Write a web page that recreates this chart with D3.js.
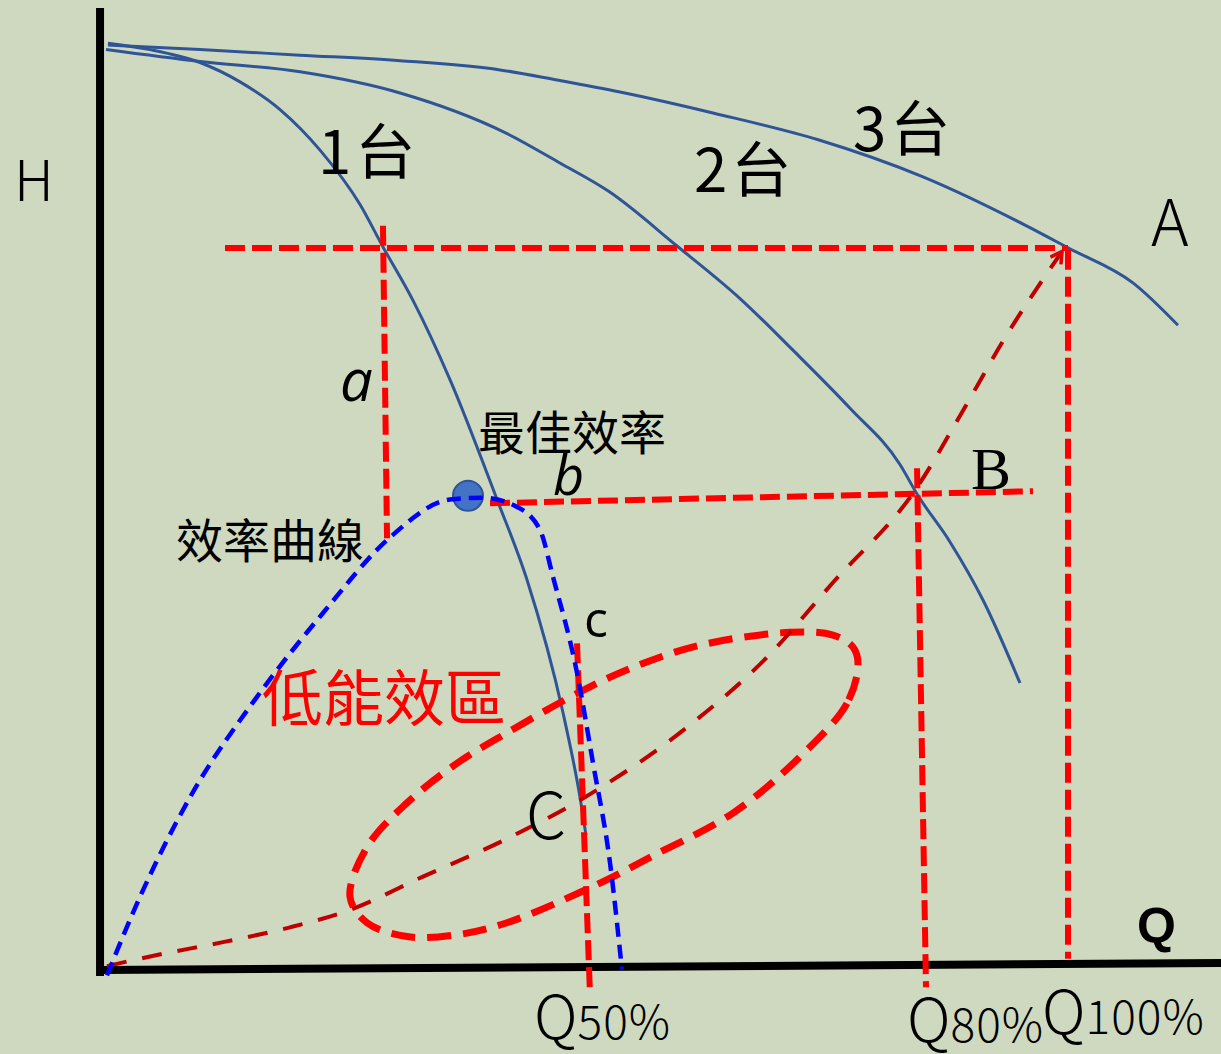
<!DOCTYPE html>
<html>
<head>
<meta charset="utf-8">
<script src="https://cdn.jsdelivr.net/npm/d3@7"></script>
<style>
  html, body { margin: 0; padding: 0; background: #CFD9BF; }
  svg { display: block; }
</style>
</head>
<body>
<svg id="chart" width="1221" height="1054"></svg>
<script>
// ---------- DATA (Q in % of rated flow, H in % of shut-off head) ----------
const pump1 = [[0.41,100.2],[4.77,99.5],[9.96,98.1],[14.11,96.0],[18.26,93.0],[22.41,88.6],[26.56,82.7],[28.94,78.1],[32.05,72.3],[35.89,63.7],[40.77,50.7],[43.88,42.0],[47.61,27.6],[49.38,18.4],[50.0,14.3]];
const pump2 = [[0.21,99.5],[9.96,98.2],[20.33,97.1],[30.71,94.8],[41.60,90.5],[47.30,87.2],[52.39,84.1],[59.44,78.2],[65.98,72.5],[71.47,66.9],[77.39,60.6],[82.57,54.5],[84.34,51.3],[87.76,46.1],[91.18,39.8],[95.02,30.8]];
const pump3 = [[0.41,100.0],[9.96,99.5],[20.33,98.9],[30.71,98.3],[41.08,97.3],[46.99,96.2],[53.53,94.9],[63.28,92.6],[74.17,89.7],[84.96,85.7],[95.85,80.3],[100,78.0],[106.74,74.2],[111.41,69.6]];
const efficiency = [[0.31,-0.9],[3.73,7.6],[8.92,18.4],[15.87,29.3],[22.72,38.4],[29.67,46.6],[35.89,50.7],[39.32,50.9],[42.84,49.9],[45.23,47.4],[46.58,42.3],[49.07,31.9],[50.73,22.1],[52.49,11.3],[53.73,-0.3]];
const systemCurve = [[0.31,0.1],[5.50,1.3],[12.34,2.7],[19.29,4.3],[25.52,6.2],[33.09,9.8],[41.39,13.7],[51.14,19.2],[60.48,26.0],[68.78,33.6],[75.62,41.7],[84.13,51.7],[89.52,61.1],[93.15,67.7],[99.38,77.6]];
const lowZone = [[78.22,32.8],[77.07,28.6],[72.20,22.8],[65.25,16.7],[56.64,11.9],[51.45,9.1],[41.80,4.8],[36.62,3.5],[31.43,3.3],[27.28,4.8],[25.52,7.6],[27.28,13.0],[31.43,17.8],[36.62,22.1],[41.80,25.4],[49.69,30.0],[54.88,32.5],[61.83,34.9],[71.16,36.3],[75.62,36.0],[77.70,34.7]];
const bestPoint = [37.76, 51.1];
// guide lines: [[q1,h1],[q2,h2]]
const guides = [
  [[12.55,77.98],[100,77.98]],   // H at A
  [[28.94,80.4],[29.36,46.5]],   // a
  [[40.04,50.3],[96.37,51.6]],   // b
  [[84.34,54.1],[85.27,-2.2]],   // Q80%
  [[100,77.8],[100,0.9]],        // Q100%
  [[49.07,35.1],[50.41,-2.8]]    // Q50% / c
];
const axisY = [[-0.41,104.0],[-0.41,-0.98]];
const axisX = [[-0.41,-0.33],[115.9,0.43]];
const curveLabels = ["1台","2台","3台"];
const pointLabels = ["A","B","C"];
const qLabels = [["Q","50%"],["Q","80%"],["Q","100%"]];

// ---------- SCALES ----------
const x = d3.scaleLinear().domain([0,100]).range([104,1068]);
const y = d3.scaleLinear().domain([0,100]).range([967,45]);

const svg = d3.select("#chart");
svg.append("rect").attr("width",1221).attr("height",1054).attr("fill","#CFD9BF");

const smooth = d3.line().x(d=>x(d[0])).y(d=>y(d[1])).curve(d3.curveMonotoneX);
const straight = d3.line().x(d=>x(d[0])).y(d=>y(d[1]));
const closed = d3.line().x(d=>x(d[0])).y(d=>y(d[1])).curve(d3.curveCatmullRomClosed.alpha(0.5));

const defs = svg.append("defs");
defs.append("marker").attr("id","arrow").attr("viewBox","0 0 10 10")
  .attr("refX",8).attr("refY",5).attr("markerWidth",4).attr("markerHeight",4)
  .attr("orient","auto").attr("markerUnits","strokeWidth")
  .append("path").attr("d","M1,1 L8,5 L1,9").attr("fill","none")
  .attr("stroke","#E00000").attr("stroke-width",2.2);

// axes
svg.append("path").attr("d",straight(axisY)).attr("stroke","#000").attr("stroke-width",8).attr("fill","none");
svg.append("path").attr("d",straight(axisX)).attr("stroke","#000").attr("stroke-width",8).attr("fill","none");

// pump curves
[pump1,pump2,pump3].forEach(c=>{
  svg.append("path").attr("d",smooth(c)).attr("fill","none")
    .attr("stroke","#2F5597").attr("stroke-width",3);
});

// best efficiency point
svg.append("circle").attr("cx",x(bestPoint[0])).attr("cy",y(bestPoint[1])).attr("r",15)
  .attr("fill","#4472C4").attr("stroke","#2F5597").attr("stroke-width",2);

// guide lines
guides.forEach(g=>{
  svg.append("path").attr("d",straight(g)).attr("fill","none")
    .attr("stroke","#FF0000").attr("stroke-width",6).attr("stroke-dasharray","20,7");
});

// low efficiency zone
svg.append("path").attr("d",closed(lowZone)).attr("fill","none")
  .attr("stroke","#FF0000").attr("stroke-width",7).attr("stroke-dasharray","24,12");

// system curve
svg.append("path").attr("d",smooth(systemCurve)).attr("fill","none")
  .attr("stroke","#C00000").attr("stroke-width",4).attr("stroke-dasharray","20,16")
  .attr("marker-end","url(#arrow)");

// efficiency curve
svg.append("path").attr("d",smooth(efficiency)).attr("fill","none")
  .attr("stroke","#0000FF").attr("stroke-width",4.5).attr("stroke-dasharray","14,8");

// ---------- TEXT ----------
const cjk = "'Noto Sans CJK TC','Noto Sans CJK JP',sans-serif";
function txt(t, px, py, size, opts={}) {
  return svg.append("text").attr("x",px).attr("y",py).text(t)
    .attr("font-family",opts.family||cjk).attr("font-size",size)
    .attr("fill",opts.fill||"#000")
    .attr("font-weight",opts.weight||"normal")
    .attr("font-style",opts.style||"normal")
    .attr("letter-spacing",opts.ls||0)
    .attr("text-anchor",opts.anchor||"start");
}
txt("H", 14, 201, 56, {weight:300});
txt(curveLabels[0], 318, 174, 60, {ls:4});
txt(curveLabels[1], 694, 192, 60, {ls:4});
txt(curveLabels[2], 853, 151, 60, {ls:4});
txt(pointLabels[0], 1151, 246, 64, {weight:300});
txt(pointLabels[1], 971, 489, 60, {family:"'Liberation Serif',serif"});
txt(pointLabels[2], 526, 839, 64, {weight:300});
txt("a", 340, 401, 58, {family:"'Open Sans',sans-serif", style:"italic"});
txt("b", 553, 495, 54, {family:"'Open Sans',sans-serif", style:"italic"});
txt("c", 584, 637, 50, {family:"'Open Sans',sans-serif"});
txt("最佳效率", 478, 450, 47);
txt("效率曲線", 176, 558, 47);
txt("低能效區", 262, 721, 61, {fill:"#FF0000"});
txt("Q", 1137, 943, 50, {family:"'Liberation Sans',Arial,sans-serif", weight:"bold"});

const qPos = [[534,1039],[907,1042],[1042,1034]];
qLabels.forEach((q,i)=>{
  const t = svg.append("text").attr("x",qPos[i][0]).attr("y",qPos[i][1])
    .attr("font-family",cjk).attr("font-weight",300).attr("fill","#000");
  t.append("tspan").attr("font-size",60).text(q[0]);
  t.append("tspan").attr("font-size",46).attr("letter-spacing",1).text(q[1]);
});
</script>
</body>
</html>
